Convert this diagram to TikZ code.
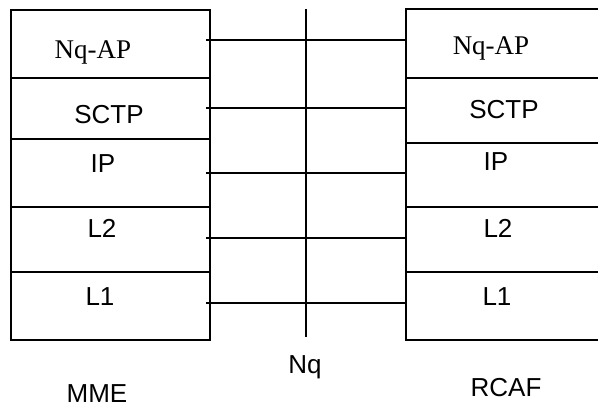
\documentclass[tikz,border=0pt]{standalone}
\usepackage{fontspec}
\setmainfont{Liberation Sans}
\newfontfamily\serifface{Liberation Serif}
\begin{document}
\begin{tikzpicture}[x=1pt,y=-1pt,
  cell/.style={draw,line width=1.9pt,inner sep=0pt,outer sep=0pt,anchor=north west},
  lbl/.style={inner sep=0pt,font=\fontsize{26}{30}\selectfont},
  apl/.style={inner sep=0pt,font=\serifface\fontsize{27}{32}\selectfont},
  side/.style={inner sep=0pt,font=\fontsize{26}{30}\selectfont},
  link/.style={line width=1.7pt}]
\useasboundingbox (0,0) rectangle (598,407);
\clip (0,0) rectangle (598,407);
% left stack (MME)
\node[cell,minimum width=199pt,minimum height=68pt] (la) at (11,10) {};
\node[cell,minimum width=199pt,minimum height=61pt] (lb) at (11,78) {};
\node[cell,minimum width=199pt,minimum height=68pt] (lc) at (11,139) {};
\node[cell,minimum width=199pt,minimum height=65pt] (ld) at (11,207) {};
\node[cell,minimum width=199pt,minimum height=68pt] (le) at (11,272) {};
% right stack (RCAF)
\node[cell,minimum width=210pt,minimum height=69pt] (ra) at (406,9) {};
\node[cell,minimum width=210pt,minimum height=65pt] (rb) at (406,78) {};
\node[cell,minimum width=210pt,minimum height=64pt] (rc) at (406,143) {};
\node[cell,minimum width=210pt,minimum height=65pt] (rd) at (406,207) {};
\node[cell,minimum width=210pt,minimum height=68pt] (re) at (406,272) {};
% labels
\node[apl] (tla) at (93,52) {Nq-AP};
\node[lbl] (tlb) at (109,115) {SCTP};
\node[lbl] (tlc) at (103,164) {IP};
\node[lbl] (tld) at (102,228) {L2};
\node[lbl] (tle) at (100,297) {L1};
\node[apl] (tra) at (491,48) {Nq-AP};
\node[lbl] (trb) at (504,110) {SCTP};
\node[lbl] (trc) at (496,162) {IP};
\node[lbl] (trd) at (498,228) {L2};
\node[lbl] (tre) at (497,297) {L1};
\node[side] (mme) at (97,394) {MME};
\node[side] (rcaf) at (506,388) {RCAF};
% Nq reference line
\coordinate (nqtop) at (306,9);
\coordinate (nqbot) at (306,337);
\draw[link] (nqtop) -- (nqbot);
\node[side] (nq) at (305,367) {Nq};
% connectors
\coordinate (c1) at (306,40);
\coordinate (c2) at (306,108);
\coordinate (c3) at (306,173);
\coordinate (c4) at (306,238);
\coordinate (c5) at (306,303);
\draw[link] ([xshift=-4pt]la.east |- c1) -- (ra.west |- c1);
\draw[link] ([xshift=-4pt]lb.east |- c2) -- (rb.west |- c2);
\draw[link] ([xshift=-4pt]lc.east |- c3) -- (rc.west |- c3);
\draw[link] ([xshift=-4pt]ld.east |- c4) -- (rd.west |- c4);
\draw[link] ([xshift=-4pt]le.east |- c5) -- (re.west |- c5);
\end{tikzpicture}
\end{document}
